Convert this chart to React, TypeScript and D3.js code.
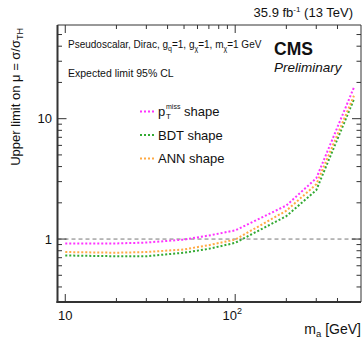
import { useEffect, useRef } from 'react';
import * as d3 from 'd3';

// Expected 95% CL limits vs mediator mass
const massPoints = [10, 20, 30, 50, 70, 100, 200, 300, 500];
const ptmissLimit = [0.92, 0.92, 0.935, 0.99, 1.07, 1.18, 1.9, 3.2, 18.2];
const bdtLimit = [0.73, 0.72, 0.72, 0.77, 0.83, 0.93, 1.55, 2.55, 14.5];
const annLimit = [0.78, 0.77, 0.78, 0.82, 0.89, 0.99, 1.72, 2.85, 15.5];

const seriesNames = ['ptmiss', 'BDT', 'ANN'];
const seriesColors = ['#ff33ff', '#33aa33', '#ffaa44'];

const xMajorTicks = [10, 100];
const xMinorTicks = [20, 30, 40, 50, 60, 70, 80, 90, 200, 300, 400];
const yMajorTicks = [1, 10];
const yMinorTicks = [0.4, 0.5, 0.6, 0.7, 0.8, 0.9, 2, 3, 4, 5, 6, 7, 8, 9, 20, 30, 40, 50];

const W = 364;
const H = 340;
const FONT = '"Liberation Sans", Arial, sans-serif';

const App = () => {
  const ref = useRef<SVGSVGElement>(null);

  useEffect(() => {
    const svg = d3.select(ref.current);
    svg.selectAll('*').remove();

    const left = 57.5, right = 361, top = 25, bottom = 302;

    const x = d3.scaleLog().domain([9, 550]).range([left, right]);
    const y = d3.scaleLog().domain([0.3, 60]).range([bottom, top]);

    // reference line at mu = 1
    svg.append('line')
      .attr('x1', left).attr('x2', right)
      .attr('y1', y(1)).attr('y2', y(1))
      .attr('stroke', '#777').attr('stroke-width', 1)
      .attr('stroke-dasharray', '4,3');

    // limit curves
    const allSeries = [ptmissLimit, bdtLimit, annLimit];
    const line = d3.line<number>()
      .x((_, i) => x(massPoints[i]))
      .y(d => y(d));

    allSeries.forEach((vals, k) => {
      svg.append('path')
        .attr('d', line(vals))
        .attr('fill', 'none')
        .attr('stroke', seriesColors[k])
        .attr('stroke-width', 2)
        .attr('stroke-dasharray', '2,2');
    });

    // frame
    const frame = svg.append('g').attr('stroke', '#333');
    frame.append('line').attr('x1', left).attr('x2', right).attr('y1', top).attr('y2', top).attr('stroke-width', 1);
    frame.append('line').attr('x1', right).attr('x2', right).attr('y1', top).attr('y2', bottom).attr('stroke-width', 1);
    frame.append('line').attr('x1', left).attr('x2', left).attr('y1', top).attr('y2', bottom + 1).attr('stroke-width', 2);
    frame.append('line').attr('x1', left - 1).attr('x2', right).attr('y1', bottom).attr('y2', bottom).attr('stroke-width', 2);

    // ticks pointing inwards, mirrored on top and right
    const ticks = svg.append('g').attr('stroke', '#333').attr('stroke-width', 1);
    const xTick = (v: number, len: number) => {
      ticks.append('line').attr('x1', x(v)).attr('x2', x(v)).attr('y1', bottom).attr('y2', bottom - len);
      ticks.append('line').attr('x1', x(v)).attr('x2', x(v)).attr('y1', top).attr('y2', top + len);
    };
    const yTick = (v: number, len: number) => {
      ticks.append('line').attr('x1', left).attr('x2', left + len).attr('y1', y(v)).attr('y2', y(v));
      ticks.append('line').attr('x1', right).attr('x2', right - len).attr('y1', y(v)).attr('y2', y(v));
    };
    xMajorTicks.forEach(v => xTick(v, 8));
    xMinorTicks.forEach(v => xTick(v, 4));
    yMajorTicks.forEach(v => yTick(v, 9));
    yMinorTicks.forEach(v => yTick(v, 4.5));

    const txt = (sx: number, sy: number, size: number, anchor = 'start') =>
      svg.append('text')
        .attr('x', sx).attr('y', sy)
        .attr('text-anchor', anchor)
        .style('font-family', FONT)
        .style('font-size', `${size}px`)
        .style('fill', '#111');

    // tick labels
    txt(x(10), 320, 13, 'middle').text('10');
    const l100 = txt(x(100) - 3, 320, 13, 'middle');
    l100.append('tspan').text('10');
    l100.append('tspan').attr('dy', -6).style('font-size', '9px').text('2');
    txt(52, y(10) + 4.5, 13, 'end').text('10');
    txt(52, y(1) + 4.5, 13, 'end').text('1');

    // axis titles
    const xt = txt(361, 334, 14, 'end');
    xt.append('tspan').text('m');
    xt.append('tspan').attr('dy', 3).style('font-size', '9.5px').text('a');
    xt.append('tspan').attr('dy', -3).text(' [GeV]');

    const yt = svg.append('text')
      .attr('transform', 'translate(20,28) rotate(-90)')
      .attr('text-anchor', 'end')
      .style('font-family', FONT)
      .style('font-size', '13px')
      .style('fill', '#111');
    yt.append('tspan').text('Upper limit on μ = σ/σ');
    yt.append('tspan').attr('dy', 3).style('font-size', '9px').text('TH');

    // header
    const hd = txt(353, 17, 13, 'end');
    hd.append('tspan').text('35.9 fb');
    hd.append('tspan').attr('dy', -5).style('font-size', '8px').text('-1');
    hd.append('tspan').attr('dy', 5).text(' (13 TeV)');

    txt(274, 55, 17.5).style('font-weight', 'bold').text('CMS');
    txt(274, 72, 13.5).style('font-style', 'italic').text('Preliminary');

    // model description
    const md = txt(68, 48, 10);
    md.append('tspan').text('Pseudoscalar, Dirac, g');
    md.append('tspan').attr('dy', 2.5).style('font-size', '7px').text('q');
    md.append('tspan').attr('dy', -2.5).text('=1, g');
    md.append('tspan').attr('dy', 2.5).style('font-size', '7px').text('χ');
    md.append('tspan').attr('dy', -2.5).text('=1, m');
    md.append('tspan').attr('dy', 2.5).style('font-size', '7px').text('χ');
    md.append('tspan').attr('dy', -2.5).text('=1 GeV');
    txt(68, 77, 10.5).text('Expected limit 95% CL');

    // legend
    const legendY = [111.5, 135, 158.5];
    seriesNames.forEach((name, k) => {
      svg.append('line')
        .attr('x1', 140).attr('x2', 155)
        .attr('y1', legendY[k]).attr('y2', legendY[k])
        .attr('stroke', seriesColors[k])
        .attr('stroke-width', 2)
        .attr('stroke-dasharray', '2,2');
      if (name === 'ptmiss') {
        txt(158, legendY[k] + 4.5, 13).text('p');
        txt(166, legendY[k] - 3, 7).text('miss');
        txt(166, legendY[k] + 7, 8).text('T');
        txt(184, legendY[k] + 4.5, 13).text('shape');
      } else {
        txt(158, legendY[k] + 4.5, 13).text(`${name} shape`);
      }
    });
  }, []);

  return (
    <svg
      ref={ref}
      width={W}
      height={H}
      style={{ position: 'absolute', left: 0, top: 0, background: 'white' }}
    />
  );
};

export default App;
